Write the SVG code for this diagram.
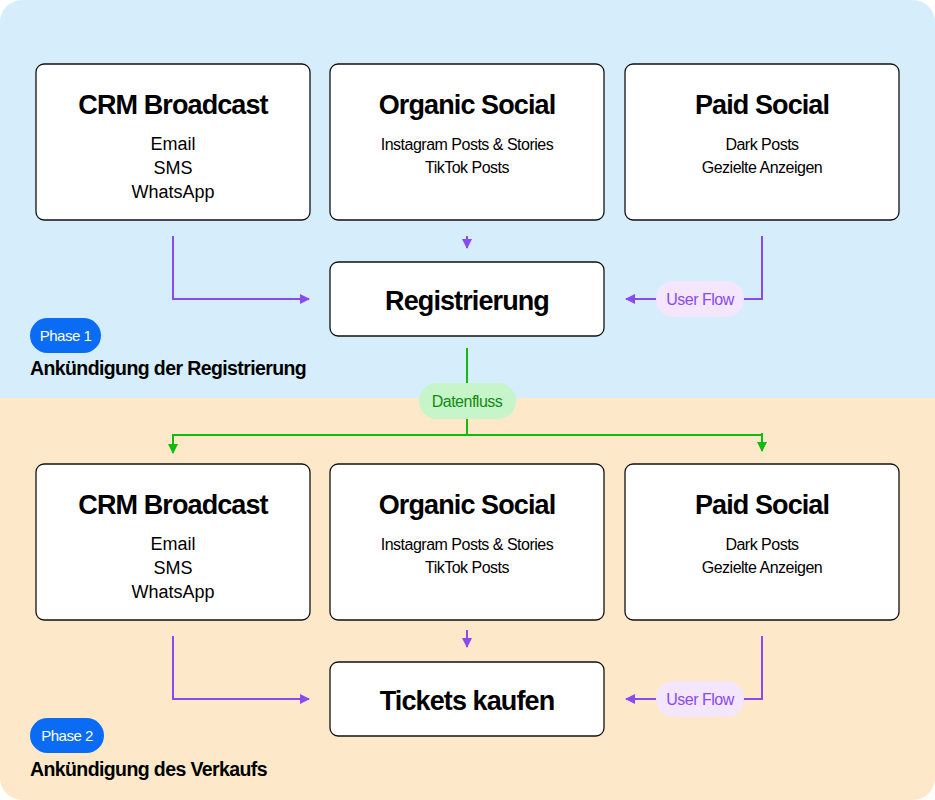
<svg xmlns="http://www.w3.org/2000/svg" width="935" height="800" viewBox="0 0 935 800">
<defs>
<clipPath id="c"><rect width="935" height="800" rx="22"/></clipPath>
<marker id="ap" viewBox="0 0 10 10" refX="9" refY="5" markerWidth="10" markerHeight="10" markerUnits="userSpaceOnUse" orient="auto"><path d="M0,0L10,5L0,10z" fill="#8a4af0"/></marker>
<marker id="ag" viewBox="0 0 10 10" refX="9" refY="5" markerWidth="10" markerHeight="10" markerUnits="userSpaceOnUse" orient="auto"><path d="M0,0L10,5L0,10z" fill="#11bb11"/></marker>
</defs>
<style>
text{font-family:"Liberation Sans",Arial,sans-serif;text-anchor:middle}
.box{fill:#fff;stroke:#111;stroke-width:1.3}
.t{font-size:27px;font-weight:bold;letter-spacing:-0.9px}
.s{font-size:18px}
.sn{font-size:16px;letter-spacing:-0.5px}
.p{stroke:#8a4af0;stroke-width:2;fill:none}
.g{stroke:#11bb11;stroke-width:2;fill:none}
.ph{font-size:15px;fill:#fff;letter-spacing:-0.5px}
.pt{font-size:19.5px;font-weight:bold;text-anchor:start;letter-spacing:-0.6px}
</style>
<g clip-path="url(#c)">
<rect width="935" height="398" fill="#d6eefc"/>
<rect y="398" width="935" height="402" fill="#fde9c9"/>
</g>
<g id="connectors">
<path class="p" d="M173,236V299H309" marker-end="url(#ap)"/>
<path class="p" d="M467,236V248" marker-end="url(#ap)"/>
<path class="p" d="M762,236V299H626" marker-end="url(#ap)"/>
<path class="p" d="M173,636V699H309" marker-end="url(#ap)"/>
<path class="p" d="M467,630V647" marker-end="url(#ap)"/>
<path class="p" d="M762,636V699H626" marker-end="url(#ap)"/>
<path class="g" d="M467,348V435"/>
<path class="g" d="M467,435H173V453" marker-end="url(#ag)"/>
<path class="g" d="M467,435H762V451" marker-end="url(#ag)"/>
<path class="g" d="M762,433V437"/>
<rect x="656" y="281" width="88" height="36" rx="18" fill="#f3e6fd"/>
<text x="700" y="305" class="sn" fill="#8a4af0">User Flow</text>
<rect x="656" y="681" width="88" height="36" rx="18" fill="#f3e6fd"/>
<text x="700" y="705" class="sn" fill="#8a4af0">User Flow</text>
<rect x="419" y="383" width="97" height="36" rx="18" fill="#c5f5c8"/>
<text x="467" y="407" class="sn" fill="#138a13">Datenfluss</text>
</g>
<g id="crm1"><rect class="box" x="36" y="64" width="274" height="156" rx="8"/><text x="173" y="114" class="t">CRM Broadcast</text><text x="173" y="150" class="s">Email</text><text x="173" y="174" class="s">SMS</text><text x="173" y="198" class="s">WhatsApp</text></g>
<g id="org1"><rect class="box" x="330" y="64" width="274" height="156" rx="8"/><text x="467" y="114" class="t">Organic Social</text><text x="467" y="150" class="sn">Instagram Posts &amp; Stories</text><text x="467" y="173" class="sn">TikTok Posts</text></g>
<g id="paid1"><rect class="box" x="625" y="64" width="274" height="156" rx="8"/><text x="762" y="114" class="t">Paid Social</text><text x="762" y="150" class="sn">Dark Posts</text><text x="762" y="173" class="sn">Gezielte Anzeigen</text></g>
<g id="reg"><rect class="box" x="330" y="262" width="274" height="74" rx="8"/><text x="467" y="310" class="t">Registrierung</text></g>
<g id="crm2"><rect class="box" x="36" y="464" width="274" height="156" rx="8"/><text x="173" y="514" class="t">CRM Broadcast</text><text x="173" y="550" class="s">Email</text><text x="173" y="574" class="s">SMS</text><text x="173" y="598" class="s">WhatsApp</text></g>
<g id="org2"><rect class="box" x="330" y="464" width="274" height="156" rx="8"/><text x="467" y="514" class="t">Organic Social</text><text x="467" y="550" class="sn">Instagram Posts &amp; Stories</text><text x="467" y="573" class="sn">TikTok Posts</text></g>
<g id="paid2"><rect class="box" x="625" y="464" width="274" height="156" rx="8"/><text x="762" y="514" class="t">Paid Social</text><text x="762" y="550" class="sn">Dark Posts</text><text x="762" y="573" class="sn">Gezielte Anzeigen</text></g>
<g id="tickets"><rect class="box" x="330" y="662" width="274" height="74" rx="8"/><text x="467" y="710" class="t">Tickets kaufen</text></g>
<g id="phase1"><rect x="30" y="318" width="71" height="35" rx="17.5" fill="#0a6cf5"/><text x="65.5" y="341" class="ph">Phase 1</text><text x="30" y="375" class="pt">Ankündigung der Registrierung</text></g>
<g id="phase2"><rect x="30" y="718" width="74" height="35" rx="17.5" fill="#0a6cf5"/><text x="67" y="741" class="ph">Phase 2</text><text x="30" y="776" class="pt">Ankündigung des Verkaufs</text></g>
</svg>
